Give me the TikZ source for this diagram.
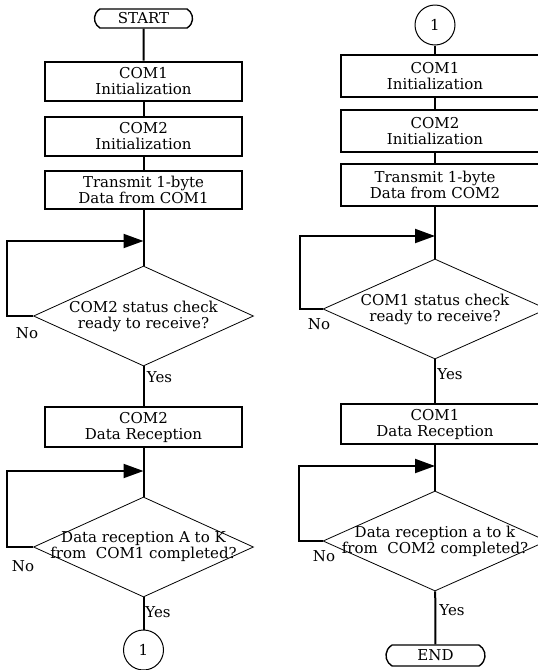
\documentclass[tikz,border=0pt]{standalone}
\usepackage{fontspec}
\setmainfont{DejaVu Serif}
\usetikzlibrary{arrows.meta,shapes.geometric,shapes.misc}

\tikzset{
  proc/.style={draw, line width=2pt, minimum width=197pt, minimum height=39pt, align=center, inner sep=1pt},
  term/.style={draw, line width=1.4pt, rounded rectangle, rounded rectangle arc length=120, minimum width=100pt, minimum height=19pt, inner sep=1pt},
  conn/.style={draw, line width=1pt, circle, minimum size=40pt, inner sep=0pt},
  decision/.style={draw, line width=0.8pt, diamond, minimum width=220pt, minimum height=100pt, inner sep=0pt},
  flow/.style={line width=2pt},
  back/.style={line width=2pt, -{Triangle[length=20pt, width=14pt]}},
  boxline/.style={line width=2pt}
}

\begin{document}
\begin{tikzpicture}[x=1pt, y=-1pt, font=\fontsize{15}{16}\selectfont]
\clip (0,0) rectangle (538,670);

% Left column
\node[term] (start) at (143.5,18.5) {START};
\node[proc] (initA) at (143.5,81) {COM1\\Initialization};
\node[proc] (initB) at (143.5,136) {COM2\\Initialization};
\node[proc, minimum height=38pt] (sendA) at (143.5,190) {Transmit 1-byte\\Data from COM1};
\node[decision, label={[align=center]center:COM2 status check\\ready to receive?}] (chkA) at (143.5,316) {};
\node[proc, minimum height=40pt] (recvA) at (143.5,427) {COM2\\Data Reception};
\node[decision, label={[align=center]center:Data reception A to K\\from~ COM1 completed?}] (chkB) at (143.5,547) {};
\node[conn] (goA) at (143.5,650) {1};
\coordinate (backA) at (143.5,241);
\coordinate (backB) at (143.5,471);

\draw[flow] (start) -- (initA);
\draw[flow] (initA) -- (initB);
\draw[flow] (initB) -- (sendA);
\draw[flow] (sendA) -- (chkA);
\draw[flow] (chkA) -- (recvA);
\draw[flow] (recvA) -- (chkB);
\draw[flow] (chkB) -- (goA);
\draw[back] (chkA.west) -- ++(-26.5,0) |- (backA);
\draw[back] (chkB.west) -- ++(-26.5,0) |- (backB);

\node (noA) at (27,333) {No};
\node (yesA) at (159.5,377) {Yes};
\node (noB) at (23,566) {No};
\node (yesB) at (158,612) {Yes};

% Right column (cut off at the right edge)
\node[conn] (goB) at (435,25) {1};
\node[proc, draw=none, minimum height=40pt] (initC) at (435,76) {COM1\\Initialization};
\node[proc, draw=none, minimum height=40pt] (initD) at (435,131) {COM2\\Initialization};
\node[proc, draw=none, minimum height=40pt] (sendB) at (435,185) {Transmit 1-byte\\Data from COM2};
\node[decision, minimum width=224pt, label={[align=center]center:COM1 status check\\ready to receive?}] (chkC) at (435,309) {};
\node[proc, draw=none, minimum height=38pt] (recvB) at (435,424) {COM1\\Data Reception};
\node[decision, minimum width=224pt, label={[align=center]center:Data reception a to k\\from~ COM2 completed?}] (chkD) at (435,541) {};
\node[term, minimum width=101pt, minimum height=21pt] (stop) at (435.5,655.5) {END};
\coordinate (backC) at (435,236);
\coordinate (backD) at (435,466);

\foreach \n in {initC,initD,sendB,recvB}
  \draw[boxline] ([xshift=-94pt]\n.north) rectangle ([xshift=110pt]\n.south);

\draw[flow] (goB) -- (initC);
\draw[flow] (initC) -- (initD);
\draw[flow] (initD) -- (sendB);
\draw[flow] (sendB) -- (chkC);
\draw[flow] (chkC) -- (recvB);
\draw[flow] (recvB) -- (chkD);
\draw[flow] (chkD) -- (stop);
\draw[back] (chkC.west) -- ++(-23,0) |- (backC);
\draw[back] (chkD.west) -- ++(-24,0) |- (backD);

\node (noC) at (319,324) {No};
\node (yesC) at (450,374) {Yes};
\node (noD) at (324,556) {No};
\node (yesD) at (452,610) {Yes};
\end{tikzpicture}
\end{document}
